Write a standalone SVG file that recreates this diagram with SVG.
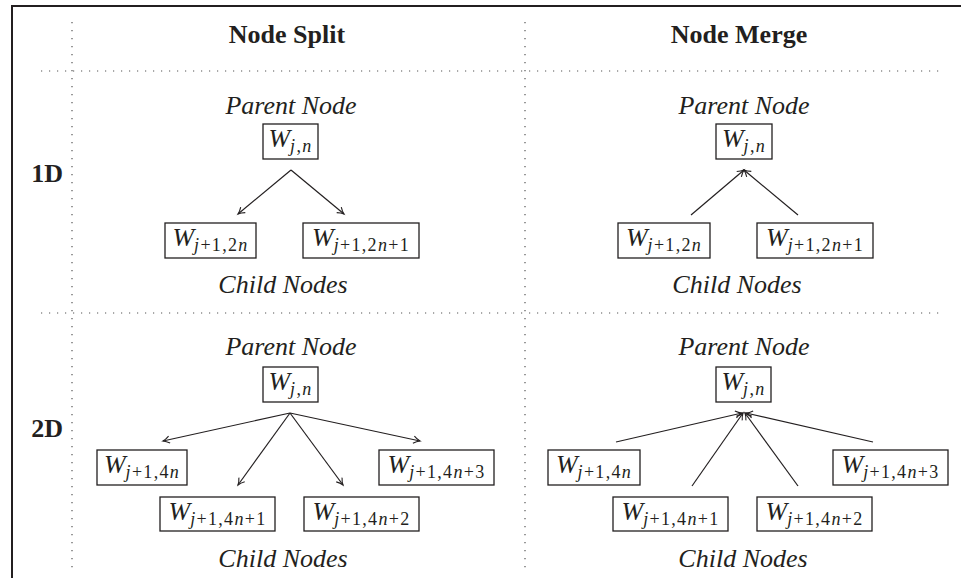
<svg xmlns="http://www.w3.org/2000/svg" width="961" height="578" viewBox="0 0 961 578">
<style>
text{font-family:"Liberation Serif","Times New Roman",serif;fill:#231f20}
.hdr{font-weight:bold;font-size:26px}
.lbl{font-style:italic;font-size:26px;text-anchor:middle}
.m{font-size:26px;text-anchor:middle}
.v{font-style:italic}
.s{font-size:18px;letter-spacing:1.3px}
.box{fill:#fff;stroke:#231f20;stroke-width:1.3}
.dot{stroke:#555;stroke-width:1.2;stroke-dasharray:1.2 6.8;fill:none}
.frame{stroke:#231f20;stroke-width:2;fill:none}
.arr{stroke:#231f20;stroke-width:1.2;fill:none;marker-end:url(#ah)}
</style>
<defs>
<marker id="ah" viewBox="-8 -5 10 10" refX="0" refY="0" markerWidth="10" markerHeight="10" markerUnits="userSpaceOnUse" orient="auto" overflow="visible">
<path d="M-6.5,-3.6 C-4,-1.6 -1.6,-0.5 0,0 C-1.6,0.5 -4,1.6 -6.5,3.6" fill="none" stroke="#231f20" stroke-width="1.1"/>
</marker>
</defs>
<rect width="961" height="578" fill="#fff"/>
<g id="frame">
<path class="frame" d="M961,6 H12 V578"/>
</g>
<g id="grid">
<line class="dot" x1="72" y1="22" x2="72" y2="570"/>
<line class="dot" x1="525" y1="22" x2="525" y2="570"/>
<line class="dot" x1="41" y1="71" x2="944" y2="71"/>
<line class="dot" x1="41" y1="313" x2="944" y2="313"/>
</g>
<g id="headers">
<text class="hdr" x="287" y="43" text-anchor="middle">Node Split</text>
<text class="hdr" x="739" y="43" text-anchor="middle">Node Merge</text>
<text class="hdr" x="63" y="182" text-anchor="end">1D</text>
<text class="hdr" x="63" y="437" text-anchor="end">2D</text>
</g>
<g id="labels">
<text class="lbl" x="291" y="114">Parent Node</text>
<text class="lbl" x="283" y="293">Child Nodes</text>
<text class="lbl" x="744" y="114">Parent Node</text>
<text class="lbl" x="737" y="293">Child Nodes</text>
<text class="lbl" x="291" y="355">Parent Node</text>
<text class="lbl" x="283" y="567">Child Nodes</text>
<text class="lbl" x="744" y="355">Parent Node</text>
<text class="lbl" x="743" y="567">Child Nodes</text>
</g>
<g id="connectors">
<path class="arr" d="M291,170 L238,214"/>
<path class="arr" d="M291,170 L344,214"/>
<path class="arr" d="M691,215 L744,170"/>
<path class="arr" d="M798,215 L744,170"/>
<path class="arr" d="M290,413 L163,441"/>
<path class="arr" d="M290,413 L238,485"/>
<path class="arr" d="M290,413 L343,485"/>
<path class="arr" d="M290,413 L420,441"/>
<path class="arr" d="M616,442 L742,413"/>
<path class="arr" d="M692,486 L743,413"/>
<path class="arr" d="M798,486 L745,413"/>
<path class="arr" d="M873,442 L746,413"/>
</g>
<g id="split1d-parent">
<rect class="box" x="263" y="124" width="55" height="35"/>
<text class="m" x="290.5" y="147"><tspan class="v">W</tspan><tspan class="s" dy="5"><tspan class="v">j</tspan>,<tspan class="v">n</tspan></tspan></text>
</g>
<g id="split1d-child0">
<rect class="box" x="165" y="223" width="91" height="35"/>
<text class="m" x="210.5" y="246"><tspan class="v">W</tspan><tspan class="s" dy="5"><tspan class="v">j</tspan>+1,2<tspan class="v">n</tspan></tspan></text>
</g>
<g id="split1d-child1">
<rect class="box" x="303" y="223" width="116" height="35"/>
<text class="m" x="361" y="246"><tspan class="v">W</tspan><tspan class="s" dy="5"><tspan class="v">j</tspan>+1,2<tspan class="v">n</tspan>+1</tspan></text>
</g>
<g id="merge1d-parent">
<rect class="box" x="716" y="124" width="56" height="35"/>
<text class="m" x="744" y="147"><tspan class="v">W</tspan><tspan class="s" dy="5"><tspan class="v">j</tspan>,<tspan class="v">n</tspan></tspan></text>
</g>
<g id="merge1d-child0">
<rect class="box" x="618" y="223" width="92" height="35"/>
<text class="m" x="664" y="246"><tspan class="v">W</tspan><tspan class="s" dy="5"><tspan class="v">j</tspan>+1,2<tspan class="v">n</tspan></tspan></text>
</g>
<g id="merge1d-child1">
<rect class="box" x="757" y="223" width="116" height="35"/>
<text class="m" x="815" y="246"><tspan class="v">W</tspan><tspan class="s" dy="5"><tspan class="v">j</tspan>+1,2<tspan class="v">n</tspan>+1</tspan></text>
</g>
<g id="split2d-parent">
<rect class="box" x="263" y="367" width="55" height="35"/>
<text class="m" x="290.5" y="390"><tspan class="v">W</tspan><tspan class="s" dy="5"><tspan class="v">j</tspan>,<tspan class="v">n</tspan></tspan></text>
</g>
<g id="split2d-child0">
<rect class="box" x="97" y="450" width="90" height="35"/>
<text class="m" x="142" y="473"><tspan class="v">W</tspan><tspan class="s" dy="5"><tspan class="v">j</tspan>+1,4<tspan class="v">n</tspan></tspan></text>
</g>
<g id="split2d-child1">
<rect class="box" x="160" y="497" width="115" height="34"/>
<text class="m" x="217.5" y="520"><tspan class="v">W</tspan><tspan class="s" dy="5"><tspan class="v">j</tspan>+1,4<tspan class="v">n</tspan>+1</tspan></text>
</g>
<g id="split2d-child2">
<rect class="box" x="304" y="497" width="115" height="34"/>
<text class="m" x="361.5" y="520"><tspan class="v">W</tspan><tspan class="s" dy="5"><tspan class="v">j</tspan>+1,4<tspan class="v">n</tspan>+2</tspan></text>
</g>
<g id="split2d-child3">
<rect class="box" x="379" y="450" width="115" height="35"/>
<text class="m" x="436.5" y="473"><tspan class="v">W</tspan><tspan class="s" dy="5"><tspan class="v">j</tspan>+1,4<tspan class="v">n</tspan>+3</tspan></text>
</g>
<g id="merge2d-parent">
<rect class="box" x="716" y="367" width="55" height="35"/>
<text class="m" x="743.5" y="390"><tspan class="v">W</tspan><tspan class="s" dy="5"><tspan class="v">j</tspan>,<tspan class="v">n</tspan></tspan></text>
</g>
<g id="merge2d-child0">
<rect class="box" x="548" y="450" width="92" height="35"/>
<text class="m" x="594" y="473"><tspan class="v">W</tspan><tspan class="s" dy="5"><tspan class="v">j</tspan>+1,4<tspan class="v">n</tspan></tspan></text>
</g>
<g id="merge2d-child1">
<rect class="box" x="613" y="497" width="115" height="34"/>
<text class="m" x="670.5" y="520"><tspan class="v">W</tspan><tspan class="s" dy="5"><tspan class="v">j</tspan>+1,4<tspan class="v">n</tspan>+1</tspan></text>
</g>
<g id="merge2d-child2">
<rect class="box" x="757" y="497" width="115" height="34"/>
<text class="m" x="814.5" y="520"><tspan class="v">W</tspan><tspan class="s" dy="5"><tspan class="v">j</tspan>+1,4<tspan class="v">n</tspan>+2</tspan></text>
</g>
<g id="merge2d-child3">
<rect class="box" x="833" y="450" width="115" height="35"/>
<text class="m" x="890.5" y="473"><tspan class="v">W</tspan><tspan class="s" dy="5"><tspan class="v">j</tspan>+1,4<tspan class="v">n</tspan>+3</tspan></text>
</g>
</svg>
